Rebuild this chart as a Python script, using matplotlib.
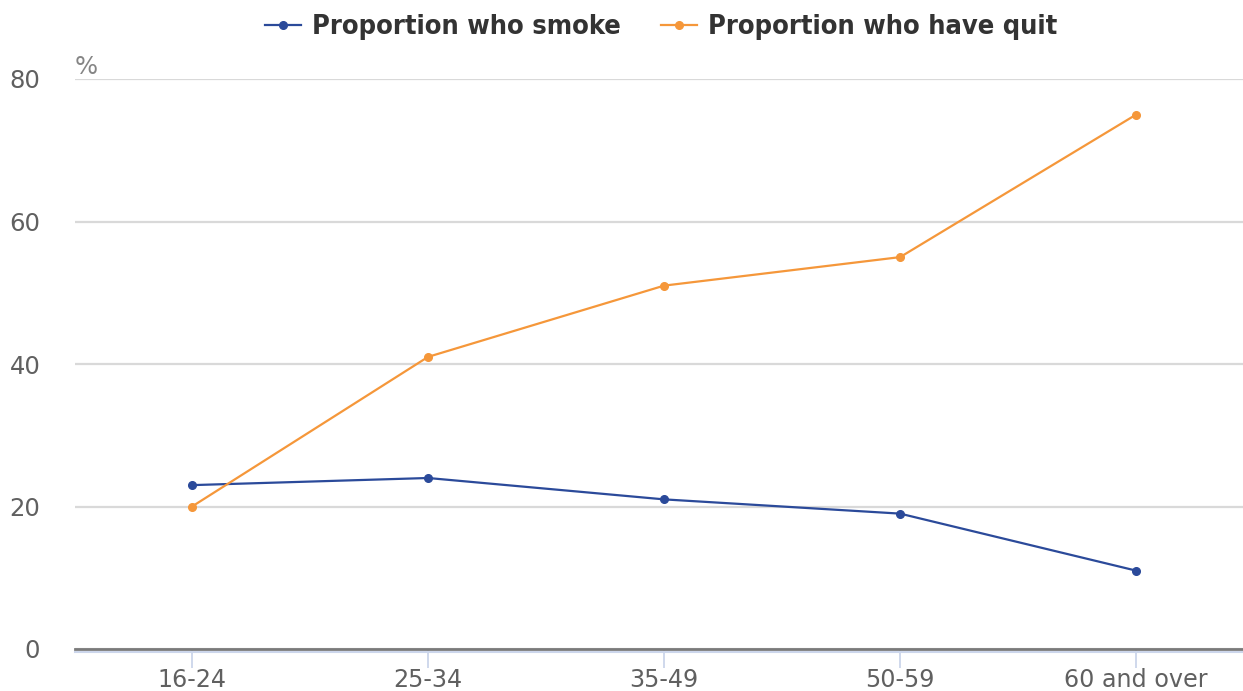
import matplotlib
matplotlib.use("Agg")
import matplotlib.pyplot as plt
from matplotlib.lines import Line2D

plt.rcParams["font.family"] = ["DejaVu Sans"]

categories = ["16-24", "25-34", "35-49", "50-59", "60 and over"]
smoke = [23, 24, 21, 19, 11]
quit_ = [20, 41, 51, 55, 75]
y_ticks = [0, 20, 40, 60, 80]

blue = "#2b4a9a"
orange = "#f5973a"

W, H = 1243, 691
fig = plt.figure(figsize=(W / 100, H / 100), dpi=100)
ax = fig.add_axes([75 / W, 42 / H, (W - 75) / W, 570 / H])

x = list(range(len(categories)))
ax.plot(x, smoke, color=blue, lw=1.6, marker="o", ms=5.5, zorder=3)
ax.plot(x, quit_, color=orange, lw=1.6, marker="o", ms=5.5, zorder=3)

ax.set_xlim(-0.496, 4.453)
ax.set_ylim(0, 80)
ax.set_yticks(y_ticks)
ax.set_xticks(x)
ax.set_xticklabels(categories)

for name, s in ax.spines.items():
    s.set_visible(False)
# light axis line just under the dark zero line
ax.add_line(Line2D([0, 1], [-2.5 / 570, -2.5 / 570], transform=ax.transAxes,
                   color="#ccd6eb", lw=1.5, clip_on=False, zorder=3.9))
ax.axhline(0, color="#7a7a7a", lw=2.0, zorder=4, clip_on=False)
ax.grid(axis="y", color="#d9d9d9", lw=1.6)
ax.grid(axis="x", visible=False)
ax.set_axisbelow(True)

ax.tick_params(axis="y", length=0, pad=25, labelsize=17.5, labelcolor="#606060")
ax.tick_params(axis="x", length=14, width=1.3, color="#ccd6eb", pad=0,
               labelsize=17.2, labelcolor="#606060")

ax.text(0.0, 1.0, "%", transform=ax.transAxes, ha="left", va="bottom",
        fontsize=17.5, color="#858585")

handles = [
    Line2D([], [], color=blue, lw=1.6, marker="o", ms=5.5),
    Line2D([], [], color=orange, lw=1.6, marker="o", ms=5.5),
]
leg = fig.legend(handles, ["Proportion who smoke", "Proportion who have quit"],
                 loc="center", bbox_to_anchor=(661 / W, 1 - 27 / H), ncol=2,
                 frameon=False, handlelength=1.33, handletextpad=0.4,
                 columnspacing=1.5,
                 prop={"family": "DejaVu Sans", "weight": "bold",
                       "stretch": "condensed", "size": 19.5})
for t in leg.get_texts():
    t.set_color("#333333")

fig.savefig("out.png", dpi=100)
